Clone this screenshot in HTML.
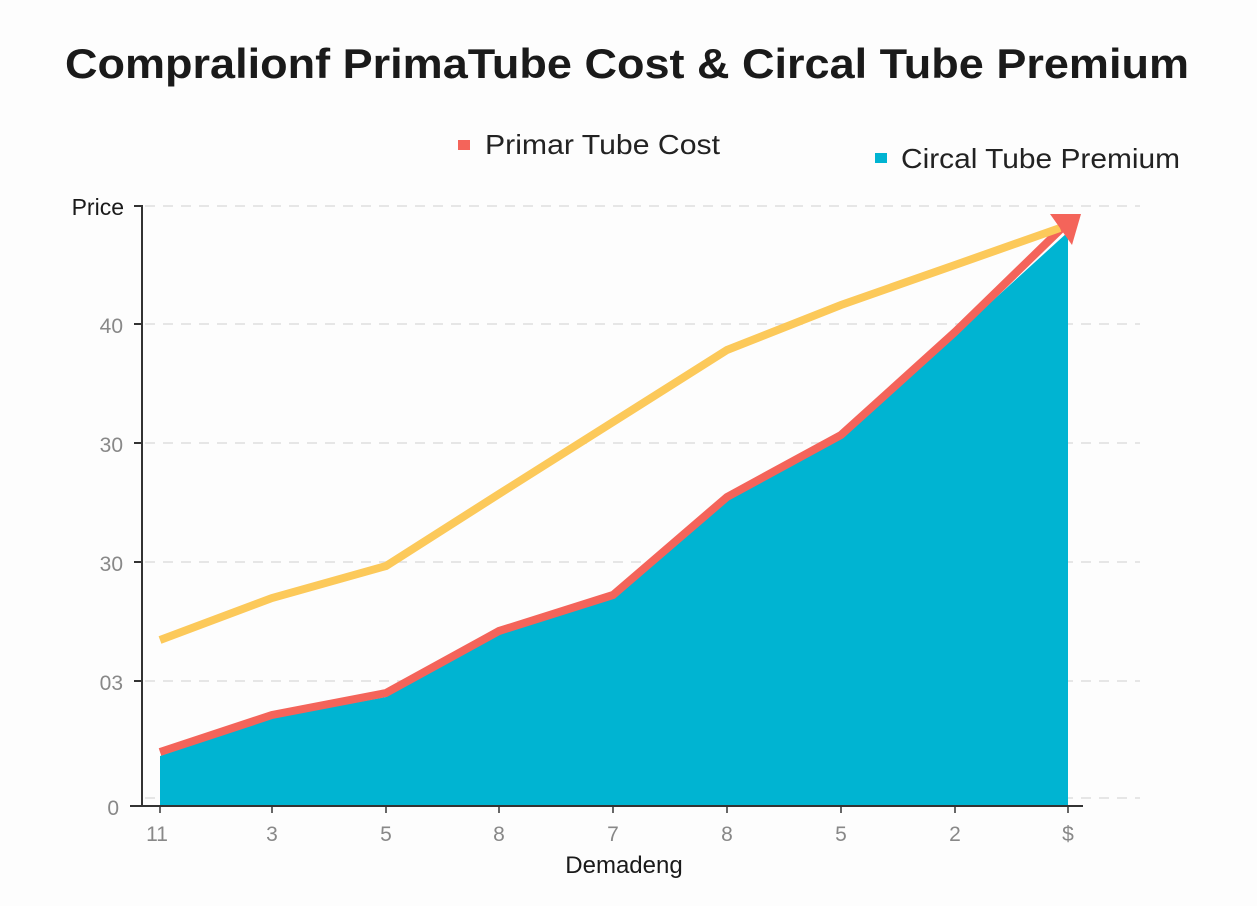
<!DOCTYPE html>
<html><head><meta charset="utf-8"><style>
html,body{margin:0;padding:0;background:#fdfdfd;}
svg{display:block;font-family:"Liberation Sans","DejaVu Sans",sans-serif;}
</style></head><body>
<svg width="1257" height="906" viewBox="0 0 1257 906">
<rect width="1257" height="906" fill="#fdfdfd"/>
<text x="65" y="78" font-size="42" font-weight="bold" fill="#1a1a1a" textLength="1124" lengthAdjust="spacingAndGlyphs">Compralionf PrimaTube Cost &amp; Circal Tube Premium</text>
<rect x="458" y="140" width="12" height="10" fill="#f4645a"/>
<text x="485" y="154" font-size="28" fill="#222" textLength="235" lengthAdjust="spacingAndGlyphs">Primar Tube Cost</text>
<rect x="875" y="153" width="12" height="10" fill="#00b4d2"/>
<text x="901" y="168" font-size="28" fill="#222" textLength="279" lengthAdjust="spacingAndGlyphs">Circal Tube Premium</text>
<g stroke="#dedede" stroke-width="1.5" stroke-dasharray="10,8">
<line x1="145" y1="206" x2="1140" y2="206"/>
<line x1="145" y1="324" x2="1140" y2="324"/>
<line x1="145" y1="443" x2="1140" y2="443"/>
<line x1="145" y1="562" x2="1140" y2="562"/>
<line x1="145" y1="681" x2="1140" y2="681"/>
<line x1="145" y1="798" x2="1140" y2="798"/>
</g>
<g font-size="21" fill="#888" text-anchor="end">
<text x="123" y="333">40</text><text x="123" y="452">30</text><text x="123" y="571">30</text><text x="123" y="690">03</text><text x="119" y="815">0</text>
</g>
<text x="124" y="215" font-size="23" fill="#1a1a1a" text-anchor="end">Price</text>
<polygon points="160,806 160,756 272,718 386,697 499,634 613,598 727,500 841,438 955,335 1068,232 1068,806" fill="#00b4d2"/>
<polyline points="160,752 272,715 386,693 499,631 613,595 727,497 841,435 955,332 1062,228" fill="none" stroke="#f4645a" stroke-width="8"/>
<polyline points="160,640 272,598 386,566 499,494 613,422 727,350 841,305 955,265 1060,228" fill="none" stroke="#fcc95a" stroke-width="8"/>
<polygon points="1050,214 1081,214 1072,245" fill="#f4645a"/>
<line x1="142" y1="205" x2="142" y2="806" stroke="#333" stroke-width="2"/>
<line x1="134" y1="206" x2="142" y2="206" stroke="#333" stroke-width="2"/>
<line x1="134" y1="324" x2="142" y2="324" stroke="#333" stroke-width="2"/>
<line x1="134" y1="443" x2="142" y2="443" stroke="#333" stroke-width="2"/>
<line x1="134" y1="562" x2="142" y2="562" stroke="#333" stroke-width="2"/>
<line x1="134" y1="681" x2="142" y2="681" stroke="#333" stroke-width="2"/>
<line x1="130" y1="806" x2="1083" y2="806" stroke="#333" stroke-width="2"/>
<g stroke="#333" stroke-width="1.5">
<line x1="160" y1="806" x2="160" y2="813"/><line x1="272" y1="806" x2="272" y2="813"/><line x1="386" y1="806" x2="386" y2="813"/><line x1="499" y1="806" x2="499" y2="813"/><line x1="613" y1="806" x2="613" y2="813"/><line x1="727" y1="806" x2="727" y2="813"/><line x1="841" y1="806" x2="841" y2="813"/><line x1="955" y1="806" x2="955" y2="813"/><line x1="1068" y1="806" x2="1068" y2="813"/>
</g>
<g font-size="21" fill="#888" text-anchor="middle">
<text x="157" y="841">11</text><text x="272" y="841">3</text><text x="386" y="841">5</text><text x="499" y="841">8</text><text x="613" y="841">7</text><text x="727" y="841">8</text><text x="841" y="841">5</text><text x="955" y="841">2</text><text x="1068" y="841">$</text>
</g>
<text x="624" y="873" font-size="24" fill="#1a1a1a" text-anchor="middle">Demadeng</text>
</svg>
</body></html>
